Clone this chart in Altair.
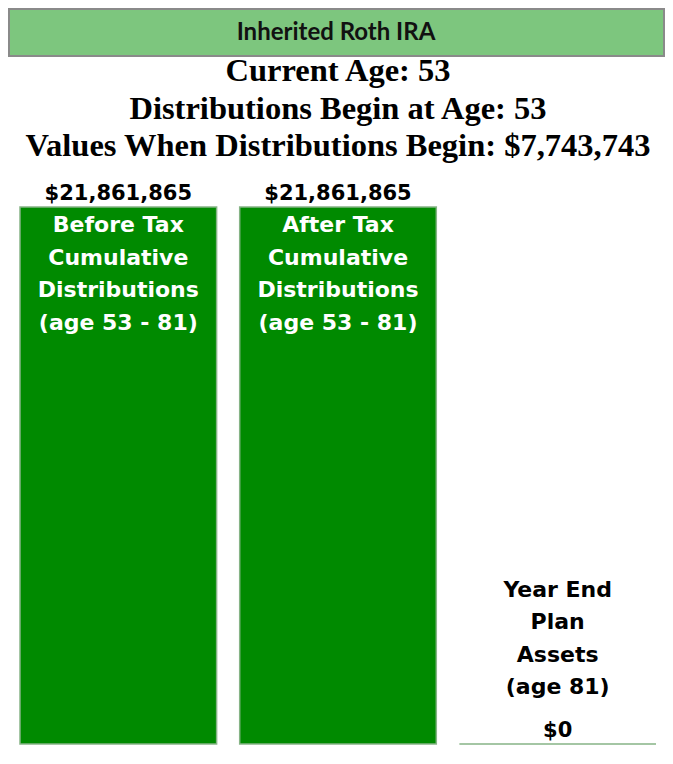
import altair as alt
import pandas as pd

# ---- data ----
categories = ["Before Tax", "After Tax", "Year End"]
values = [21861865, 21861865, 0]
value_labels = ["$21,861,865", "$21,861,865", "$0"]
category_labels = [
    "Before Tax\nCumulative\nDistributions\n(age 53 - 81)",
    "After Tax\nCumulative\nDistributions\n(age 53 - 81)",
    "Year End\nPlan\nAssets\n(age 81)",
]
header_title = "Inherited Roth IRA"
header_lines = [
    "Current Age: 53",
    "Distributions Begin at Age: 53",
    "Values When Distributions Begin: $7,743,743",
]

df = pd.DataFrame({
    "cat": categories,
    "value": values,
    "vlabel": value_labels,
    "clabel": category_labels,
})

W, H = 657, 737
BAR_GREEN = "#008A00"
BOTTOM, TOP = 736, 199

xscale = alt.Scale(domain=categories, range=[12, 648], paddingInner=0.105, paddingOuter=0)
yscale = alt.Scale(domain=[0, max(values)], range=[BOTTOM, TOP])

X = alt.X("cat:N", scale=xscale, axis=None, sort=categories)
Y = alt.Y("value:Q", scale=yscale, axis=None)

base = alt.Chart(df)

bars = base.mark_bar(color=BAR_GREEN, stroke="#86b486", strokeWidth=1.5).encode(x=X, y=Y)

value_text = base.mark_text(
    font="DejaVu Sans", fontWeight="bold", fontSize=21, baseline="bottom", dy=-3, color="black"
).encode(x=X, y=Y, text="vlabel:N")

inner_text = base.transform_filter("datum.value > 0").mark_text(
    font="DejaVu Sans", fontWeight="bold", fontSize=22, baseline="top", dy=8,
    lineBreak="\n", lineHeight=32.7, color="white"
).encode(x=X, y=Y, text="clabel:N")

outer_text = base.transform_filter("datum.value <= 0").mark_text(
    font="DejaVu Sans", fontWeight="bold", fontSize=22, baseline="top", dy=-164,
    lineBreak="\n", lineHeight=32.4, color="black"
).encode(x=X, y=Y, text="clabel:N")

hdr = pd.DataFrame({"t": [header_title]})
header_box = alt.Chart(hdr).mark_rect(
    fill="#7DC67E", stroke="#8a8a8a", strokeWidth=2
).encode(x=alt.value(1), x2=alt.value(656), y=alt.value(1), y2=alt.value(48))

header_text = alt.Chart(hdr).mark_text(
    font="Lato", fontWeight="bold", fontSize=24, color="#111111", baseline="middle"
).encode(x=alt.value(328), y=alt.value(25), text="t:N")

lines_df = pd.DataFrame({"t": header_lines, "i": list(range(len(header_lines)))})
line_layers = []
for i, t in enumerate(header_lines):
    line_layers.append(
        alt.Chart(lines_df).transform_filter(f"datum.i == {i}").mark_text(
            font="Liberation Serif", fontWeight="bold", fontSize=32.5, color="black", baseline="middle"
        ).encode(x=alt.value(330), y=alt.value(63 + 37.5 * i), text="t:N")
    )

chart = alt.layer(
    header_box, header_text, *line_layers, bars, value_text, inner_text, outer_text
).properties(
    width=W, height=H, padding=0, autosize=alt.AutoSizeParams(type="none")
).configure_view(stroke=None).resolve_scale(x="shared", y="shared")

chart.save("out.html", embed_options={"renderer": "svg", "actions": False})
